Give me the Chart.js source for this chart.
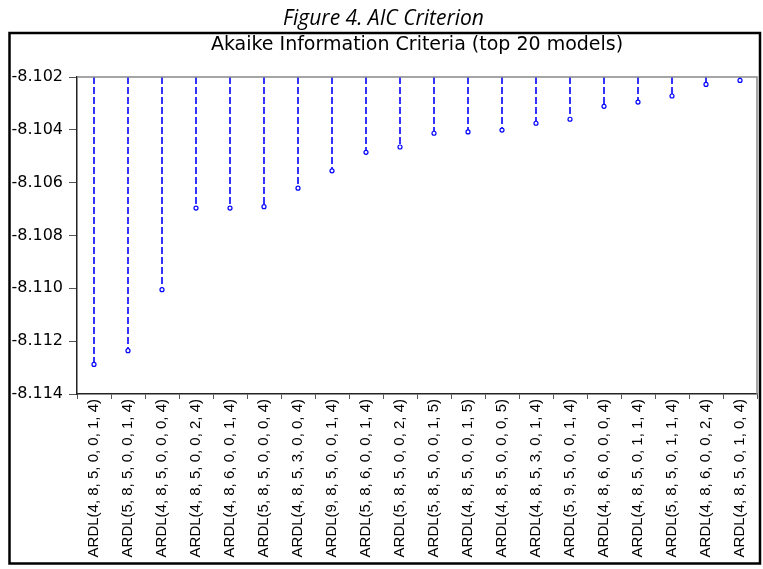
<!DOCTYPE html>
<html>
<head>
<meta charset="utf-8">
<script src="https://cdn.jsdelivr.net/npm/chart.js@4/dist/chart.umd.min.js"></script>
<style>
  html, body { margin: 0; padding: 0; background: #fff; }
  #wrap { position: relative; width: 763px; height: 569px; }
</style>
</head>
<body>
<div id="wrap"><canvas id="c"></canvas></div>
<script>
const figureTitle = "Figure 4. AIC Criterion";
const chartTitle = "Akaike Information Criteria (top 20 models)";
const models = [
  "ARDL(4, 8, 5, 0, 0, 1, 4)", "ARDL(5, 8, 5, 0, 0, 1, 4)", "ARDL(4, 8, 5, 0, 0, 0, 4)",
  "ARDL(4, 8, 5, 0, 0, 2, 4)", "ARDL(4, 8, 6, 0, 0, 1, 4)", "ARDL(5, 8, 5, 0, 0, 0, 4)",
  "ARDL(4, 8, 5, 3, 0, 0, 4)", "ARDL(9, 8, 5, 0, 0, 1, 4)", "ARDL(5, 8, 6, 0, 0, 1, 4)",
  "ARDL(5, 8, 5, 0, 0, 2, 4)", "ARDL(5, 8, 5, 0, 0, 1, 5)", "ARDL(4, 8, 5, 0, 0, 1, 5)",
  "ARDL(4, 8, 5, 0, 0, 0, 5)", "ARDL(4, 8, 5, 3, 0, 1, 4)", "ARDL(5, 9, 5, 0, 0, 1, 4)",
  "ARDL(4, 8, 6, 0, 0, 0, 4)", "ARDL(4, 8, 5, 0, 1, 1, 4)", "ARDL(5, 8, 5, 0, 1, 1, 4)",
  "ARDL(4, 8, 6, 0, 0, 2, 4)", "ARDL(4, 8, 5, 0, 1, 0, 4)"
];
const aicValues = [
  -8.11288, -8.11236, -8.11005, -8.10696, -8.10696, -8.10691, -8.10621, -8.10555, -8.10485, -8.10465,
  -8.10413, -8.10408, -8.10401, -8.10375, -8.10360, -8.10311, -8.10295, -8.10272, -8.10228, -8.10213
];
const yMin = -8.114, yMax = -8.102, yStep = 0.002;

const spikeColor = '#0000ff';

const framePlugin = {
  id: 'frame',
  beforeDatasetsDraw(chart) {
    const ctx = chart.ctx;
    const ys = chart.scales.y;
    const topPx = ys.getPixelForValue(yMax);
    const meta = chart.getDatasetMeta(0);
    ctx.save();
    ctx.strokeStyle = spikeColor;
    ctx.lineWidth = 1.6;
    ctx.setLineDash([7, 3]);
    meta.data.forEach(pt => {
      ctx.beginPath();
      ctx.moveTo(pt.x, topPx);
      ctx.lineTo(pt.x, pt.y);
      ctx.stroke();
    });
    ctx.restore();
  },
  afterDraw(chart) {
    const ctx = chart.ctx, a = chart.chartArea;
    ctx.save();
    ctx.strokeStyle = '#888888';
    ctx.lineWidth = 1.5;
    ctx.beginPath();
    ctx.moveTo(a.left, a.top);
    ctx.lineTo(a.right, a.top);
    ctx.lineTo(a.right, a.bottom);
    ctx.stroke();
    ctx.strokeStyle = '#000';
    ctx.lineWidth = 2.5;
    ctx.strokeRect(9.5, 33, 750.5, 530.5);
    ctx.restore();
  }
};

new Chart(document.getElementById('c'), {
  type: 'line',
  data: {
    labels: models,
    datasets: [{
      data: aicValues,
      showLine: false,
      borderColor: spikeColor,
      backgroundColor: '#ffffff',
      pointRadius: 2,
      pointBorderWidth: 1.2,
      pointBackgroundColor: '#ffffff',
      pointBorderColor: spikeColor
    }]
  },
  options: {
    responsive: true,
    maintainAspectRatio: false,
    animation: false,
    layout: { padding: { left: 10, right: 6, top: 0, bottom: 5 } },
    plugins: {
      legend: { display: false },
      tooltip: { enabled: false },
      title: {
        display: true,
        text: figureTitle,
        color: '#000',
        font: { family: 'Open Sans', size: 21, style: 'italic', weight: 'normal', lineHeight: 1.2 },
        padding: { top: 6, bottom: 2 }
      },
      subtitle: {
        display: true,
        fullSize: false,
        text: chartTitle,
        color: '#000',
        font: { family: 'DejaVu Sans', size: 19, weight: 'normal', lineHeight: 1.2 },
        padding: { top: 0, bottom: 21 }
      }
    },
    scales: {
      x: {
        type: 'category',
        offset: true,
        grid: { display: true, offset: true, drawOnChartArea: false, drawTicks: true, tickLength: 5, color: '#555', lineWidth: 1 },
        border: { display: true, color: '#222', width: 1.5 },
        ticks: {
          autoSkip: false, minRotation: 90, maxRotation: 90, padding: 0,
          color: '#000', font: { family: 'Liberation Sans', size: 15 }
        },
        afterFit(scale) { scale.height = 170; }
      },
      y: {
        min: yMin, max: yMax,
        grid: { display: true, drawOnChartArea: false, drawTicks: true, tickLength: 8, color: '#555', lineWidth: 1 },
        border: { display: true, color: '#222', width: 1.5 },
        ticks: {
          stepSize: yStep, padding: 6, color: '#000',
          font: { family: 'DejaVu Sans', size: 16 },
          callback: v => Number(v).toFixed(3)
        },
        afterFit(scale) { scale.width = 67; }
      }
    }
  },
  plugins: [framePlugin]
});
</script>
</body>
</html>
